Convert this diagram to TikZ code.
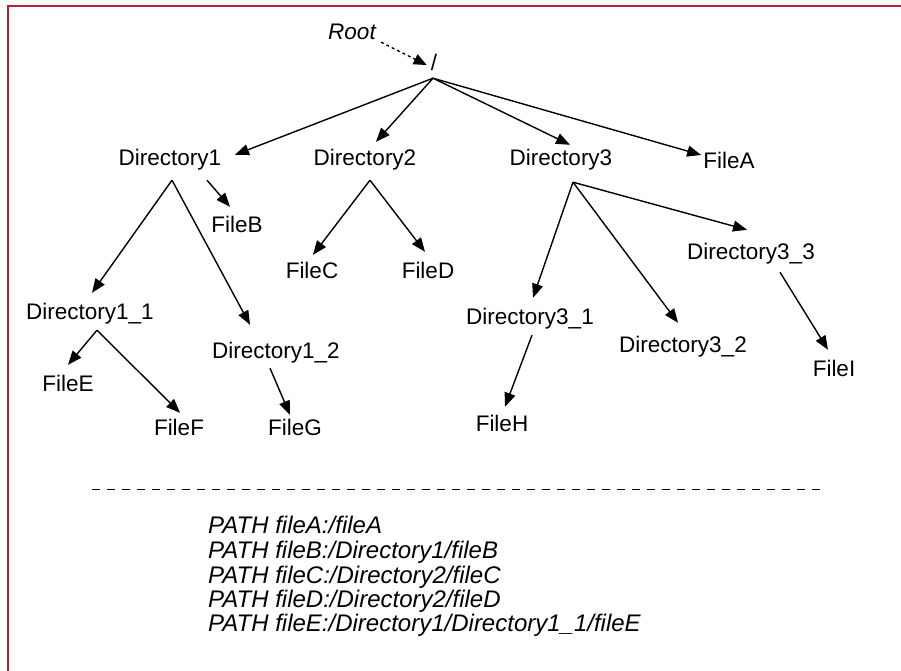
\documentclass[tikz,border=0pt]{standalone}
\usepackage{fontspec}
\setmainfont{Liberation Sans}
\usetikzlibrary{arrows.meta,calc}
\definecolor{frame}{RGB}{178,34,52}
\begin{document}
\begin{tikzpicture}[x=1pt,y=-1pt,
  lbl/.style={inner sep=0pt,text height=16pt,text depth=0pt,font=\fontsize{22.5pt}{26pt}\selectfont},
  itl/.style={inner sep=0pt,anchor=base west,font=\fontsize{24pt}{28pt}\selectfont\itshape},
  arr/.style={line width=1.4pt,-{Triangle[length=14pt,width=11pt]}},
  darr/.style={line width=1.3pt,dash pattern=on 3pt off 3pt,-{Triangle[length=13pt,width=11pt]}}]
\useasboundingbox (0,0) rectangle (901,671);
\fill[white] (0,0) rectangle (901,671);
\draw[frame,line width=2.2pt] (8,671) -- (8,6) -- (901,6);
% nodes
\node[lbl,font=\fontsize{22.5pt}{26pt}\selectfont\itshape] (rl) at (352,32) {Root};
\node[lbl] (r) at (434,63) {/};
\node[lbl] (d1) at (170,158) {Directory1};
\node[lbl] (d2) at (365,158) {Directory2};
\node[lbl] (d3) at (561,158) {Directory3};
\node[lbl] (fA) at (729,160) {FileA};
\node[lbl] (fB) at (237,224) {FileB};
\node[lbl] (fC) at (312,270) {FileC};
\node[lbl] (fD) at (428,270) {FileD};
\node[lbl] (d11) at (90,311) {Directory1\_1};
\node[lbl] (d12) at (276,350) {Directory1\_2};
\node[lbl] (fE) at (68,383) {FileE};
\node[lbl] (fF) at (179,427) {FileF};
\node[lbl] (fG) at (295,427) {FileG};
\node[lbl] (d31) at (530,316) {Directory3\_1};
\node[lbl] (d32) at (683,344) {Directory3\_2};
\node[lbl] (d33) at (751,251) {Directory3\_3};
\node[lbl] (fH) at (502,423) {FileH};
\node[lbl] (fI) at (834,368) {FileI};
% apexes
\coordinate (ra) at ($(r.south)+(-1,7)$);
\coordinate (d1a) at ($(d1.south)+(2,14)$);
\coordinate (d2a) at ($(d2.south)+(5,14)$);
\coordinate (d3a) at ($(d3.south)+(12,16)$);
\coordinate (d11a) at ($(d11.south)+(7,11)$);
% connectors
\draw[darr] ($(rl.south east)+(5,2)$) -- ($(r.west)+(-4,2)$);
\draw[arr] (ra) -- ($(d1.north east)+(13.5,5)$);
\draw[arr] (ra) -- ($(d2.north)+(11,-8)$);
\draw[arr] (ra) -- ($(d3.north)+(9,-5)$);
\draw[arr] (ra) -- ($(fA.west)+(-2,-5)$);
\draw[arr] ($(d1.south)+(37,14)$) -- ($(fB.north)+(-7,-9)$);
\draw[arr] (d1a) -- ($(d11.north)+(2,-10)$);
\draw[arr] (d1a) -- ($(d12.north)+(-26,-17)$);
\draw[arr] (d2a) -- ($(fC.north)+(1,-7)$);
\draw[arr] (d2a) -- ($(fD.north)+(-3,-10)$);
\draw[arr] (d3a) -- ($(d31.north)+(3,-10)$);
\draw[arr] (d3a) -- ($(d32.north)+(-5,-13)$);
\draw[arr] (d3a) -- ($(d33.north)+(-4,-13)$);
\draw[arr] ($(d33.south)+(29,13)$) -- ($(fI.north)+(-6,-10)$);
\draw[arr] ($(d31.south)+(2,11)$) -- ($(fH.north)+(3,-8)$);
\draw[arr] (d11a) -- ($(fE.north)+(0,-10)$);
\draw[arr] (d11a) -- ($(fF.north)+(1,-6)$);
\draw[arr] ($(d12.south)+(-6,10)$) -- ($(fG.north)+(-5,-4)$);
% separator
\draw[line width=1pt,dash pattern=on 8pt off 7pt] (92,489) -- (822,489);
% paths
\node[itl] (p1) at (208,533) {PATH fileA:/fileA};
\node[itl] (p2) at (208,558) {PATH fileB:/Directory1/fileB};
\node[itl] (p3) at (208,583) {PATH fileC:/Directory2/fileC};
\node[itl] (p4) at (208,607) {PATH fileD:/Directory2/fileD};
\node[itl] (p5) at (208,631) {PATH fileE:/Directory1/Directory1\_1/fileE};
\end{tikzpicture}
\end{document}
